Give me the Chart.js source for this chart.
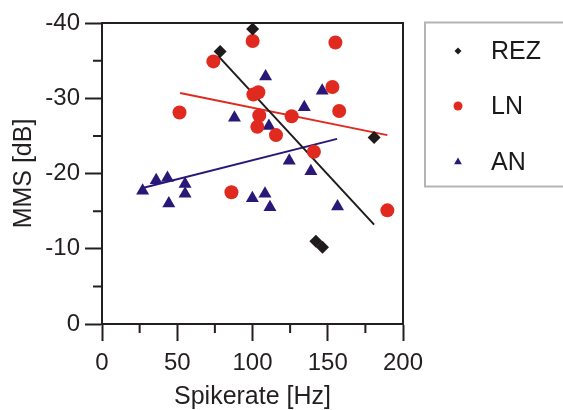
<!DOCTYPE html>
<html>
<head>
<meta charset="utf-8">
<script src="https://cdn.jsdelivr.net/npm/chart.js@4/dist/chart.umd.min.js"></script>
<style>
  body { margin: 0; background: #fff; }
  #chart { display: block; }
</style>
</head>
<body>
<canvas id="chart" width="563" height="410"></canvas>
<script>
// Messwerte (Spikerate in Hz, MMS in dB)
const rezX = [78.5, 100.1, 180.8, 142.1, 146.5];
const rezY = [-36.2, -39.2, -24.8, -11.0, -10.2];

const lnX = [100.1, 155.1, 74.0, 153.1, 103.9, 100.6, 51.5, 157.6, 104.5, 126.0, 103.2, 115.6, 140.8, 86.0, 189.6];
const lnY = [-37.6, -37.4, -34.9, -31.5, -30.8, -30.5, -28.1, -28.3, -27.7, -27.6, -26.2, -25.1, -22.9, -17.5, -15.1];

const anX = [27.0, 36.0, 43.5, 55.2, 55.2, 44.4, 88.0, 108.7, 110.9, 99.9, 108.3, 111.6, 124.4, 134.4, 138.8, 146.3, 156.5];
const anY = [-17.7, -19.1, -19.4, -18.6, -17.3, -16.0, -27.4, -32.9, -26.3, -16.7, -17.3, -15.5, -21.7, -28.8, -20.3, -31.0, -15.6];

// Regressionsgeraden (Endpunkte)
const rezFitX = [77.3, 180.8];
const rezFitY = [-35.6, -13.2];
const lnFitX = [51.9, 189.6];
const lnFitY = [-30.7, -25.1];
const anFitX = [27.6, 156.2];
const anFitY = [-18.1, -24.6];

const xTicks = [0, 50, 100, 150, 200];
const yTicks = [0, -10, -20, -30, -40];

const black = "#1f1b1a";
const red = "#e02a20";
const blue = "#2a1878";
const axisColor = "#231f20";

function toPoints(xs, ys) {
    return xs.map((x, i) => ({ x: x, y: ys[i] }));
}

// Rahmen, kleine Ticks und Legende
const extrasPlugin = {
    id: "extras",
    afterDraw(chart) {
        const ctx = chart.ctx;
        const area = chart.chartArea;
        const xs = chart.scales.x;
        const ys = chart.scales.y;
        ctx.save();
        ctx.strokeStyle = axisColor;
        ctx.lineWidth = 2;
        ctx.beginPath();
        ctx.moveTo(area.left, area.top);
        ctx.lineTo(area.right, area.top);
        ctx.lineTo(area.right, area.bottom);
        ctx.stroke();

        // kleine Ticks
        ctx.beginPath();
        for (let v = 25; v < 200; v += 50) {
            const px = xs.getPixelForValue(v);
            ctx.moveTo(px, area.bottom);
            ctx.lineTo(px, area.bottom + 9);
        }
        for (let v = -5; v > -40; v -= 10) {
            const py = ys.getPixelForValue(v);
            ctx.moveTo(area.left, py);
            ctx.lineTo(area.left - 9, py);
        }
        ctx.stroke();

        // Legende
        ctx.strokeStyle = "#b4b4b4";
        ctx.lineWidth = 2;
        ctx.strokeRect(425, 22.5, 160, 164);
        const items = chart.data.datasets.filter(d => !d.showLine);
        const rows = [51, 106, 162];
        const sizes = { rectRot: 3.5, circle: 4.5, triangle: 4.5 };
        items.forEach((d, i) => {
            ctx.fillStyle = d.backgroundColor;
            ctx.strokeStyle = d.backgroundColor;
            Chart.helpers.drawPoint(ctx, {
                pointStyle: d.pointStyle,
                radius: sizes[d.pointStyle],
                rotation: 0,
                borderWidth: 0
            }, 458, rows[i]);
            ctx.fillStyle = "#1a1a1a";
            ctx.font = "25px 'Liberation Sans', Arial, sans-serif";
            ctx.textAlign = "left";
            ctx.textBaseline = "middle";
            ctx.fillText(d.label, 491, rows[i] + 1);
        });
        ctx.restore();
    }
};

const tickFont = { family: "'Liberation Sans', Arial, sans-serif", size: 24 };
const titleFont = { family: "'Liberation Sans', Arial, sans-serif", size: 25, lineHeight: 1 };

new Chart(document.getElementById("chart"), {
    type: "scatter",
    data: {
        datasets: [
            {
                label: "REZ",
                data: toPoints(rezX, rezY),
                pointStyle: "rectRot",
                pointRadius: 6.5,
                backgroundColor: black,
                borderColor: black,
                borderWidth: 0,
                order: 0
            },
            {
                label: "LN",
                data: toPoints(lnX, lnY),
                pointStyle: "circle",
                pointRadius: 7,
                backgroundColor: red,
                borderColor: red,
                borderWidth: 0,
                order: 0
            },
            {
                label: "AN",
                data: toPoints(anX, anY),
                pointStyle: "triangle",
                pointRadius: 7.5,
                backgroundColor: blue,
                borderColor: blue,
                borderWidth: 0,
                order: 0
            },
            {
                label: "REZ Fit",
                data: toPoints(rezFitX, rezFitY),
                showLine: true,
                pointRadius: 0,
                borderColor: black,
                borderWidth: 2,
                order: 1
            },
            {
                label: "LN Fit",
                data: toPoints(lnFitX, lnFitY),
                showLine: true,
                pointRadius: 0,
                borderColor: red,
                borderWidth: 2,
                order: 1
            },
            {
                label: "AN Fit",
                data: toPoints(anFitX, anFitY),
                showLine: true,
                pointRadius: 0,
                borderColor: blue,
                borderWidth: 2,
                order: 1
            }
        ]
    },
    options: {
        responsive: false,
        animation: false,
        layout: { padding: { left: 0, right: 160, top: 23, bottom: 0 } },
        plugins: {
            legend: { display: false },
            tooltip: { enabled: false }
        },
        scales: {
            x: {
                type: "linear",
                min: 0,
                max: 200,
                afterBuildTicks: scale => { scale.ticks = xTicks.map(v => ({ value: v })); },
                afterFit: scale => { scale.height = 86; },
                ticks: { color: "#231f20", font: tickFont, padding: 8, maxRotation: 0 },
                grid: { drawOnChartArea: false, tickLength: 17, tickWidth: 2, tickColor: axisColor },
                border: { display: true, width: 2, color: axisColor },
                title: { display: true, text: "Spikerate [Hz]", color: "#231f20", font: titleFont, padding: { top: 0, bottom: 0 } }
            },
            y: {
                type: "linear",
                min: -40,
                max: 0,
                reverse: true,
                afterBuildTicks: scale => { scale.ticks = yTicks.map(v => ({ value: v })); },
                afterFit: scale => { scale.width = 102; },
                ticks: { color: "#231f20", font: tickFont, padding: 5 },
                grid: { drawOnChartArea: false, tickLength: 17, tickWidth: 2, tickColor: axisColor },
                border: { display: true, width: 2, color: axisColor },
                title: { display: true, text: "MMS [dB]", color: "#231f20", font: titleFont, padding: { top: 12, bottom: 0 } }
            }
        }
    },
    plugins: [extrasPlugin]
});
</script>
</body>
</html>
